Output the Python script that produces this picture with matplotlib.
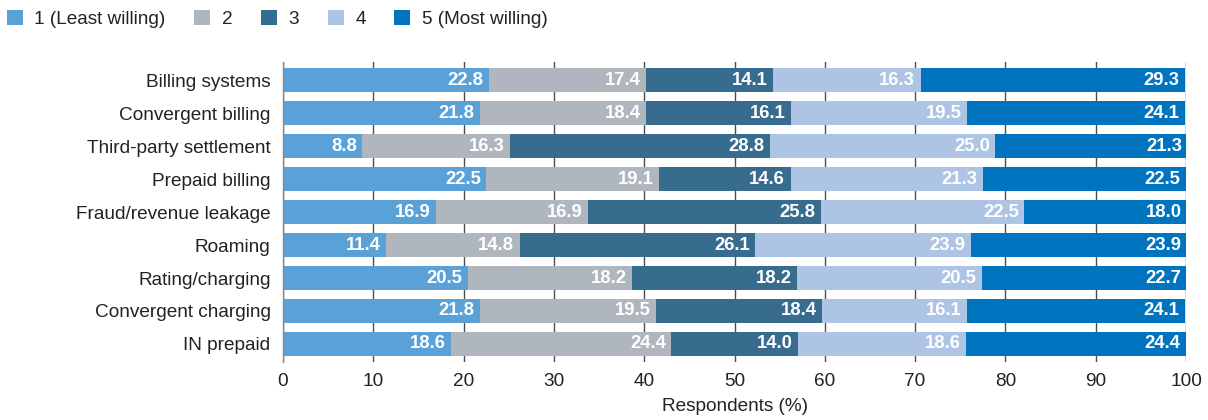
import matplotlib
matplotlib.use("Agg")
import matplotlib.pyplot as plt
from matplotlib.patches import Patch
import numpy as np

plt.rcParams['font.family'] = ['Liberation Sans', 'DejaVu Sans']

categories = ["Billing systems", "Convergent billing", "Third-party settlement",
              "Prepaid billing", "Fraud/revenue leakage", "Roaming",
              "Rating/charging", "Convergent charging", "IN prepaid"]
series_names = ["1 (Least willing)", "2", "3", "4", "5 (Most willing)"]
s1 = [22.8, 21.8, 8.8, 22.5, 16.9, 11.4, 20.5, 21.8, 18.6]
s2 = [17.4, 18.4, 16.3, 19.1, 16.9, 14.8, 18.2, 19.5, 24.4]
s3 = [14.1, 16.1, 28.8, 14.6, 25.8, 26.1, 18.2, 18.4, 14.0]
s4 = [16.3, 19.5, 25.0, 21.3, 22.5, 23.9, 20.5, 16.1, 18.6]
s5 = [29.3, 24.1, 21.3, 22.5, 18.0, 23.9, 22.7, 24.1, 24.4]
xticks = [0, 10, 20, 30, 40, 50, 60, 70, 80, 90, 100]
colors = ["#5aa1d8", "#afb6bd", "#386c8f", "#adc4e4", "#0074bf"]

FS = 13.7
text_color = '#222222'

fig = plt.figure(figsize=(12.08, 4.2), dpi=100)
ax = fig.add_axes([0.2343, 0.138, 0.7475, 0.714])

y = np.arange(len(categories))
left = np.zeros(len(categories))
for vals, col in zip([s1, s2, s3, s4, s5], colors):
    vals = np.array(vals)
    ax.barh(y, vals, left=left, height=0.72, color=col, zorder=2)
    for yi, l, v in zip(y, left, vals):
        ax.text(l + v - 0.6, yi, f"{v:.1f}", ha='right', va='center',
                color='white', fontweight='bold', fontsize=13.3, zorder=3)
    left += vals

ax.set_xlim(0, 100)
ax.set_ylim(len(categories) - 0.45, -0.55)
ax.set_yticks(y)
ax.set_yticklabels(categories, fontsize=FS, color=text_color)
ax.set_xticks(xticks)
ax.set_xticklabels([str(t) for t in xticks], fontsize=FS, color=text_color)
ax.tick_params(axis='y', length=0, pad=9)
ax.tick_params(axis='x', length=0, pad=8)
ax.xaxis.grid(True, color='#4d4d4d', linewidth=1.0, zorder=0)
ax.set_axisbelow(True)
for side in ['top', 'right', 'bottom']:
    ax.spines[side].set_visible(False)
ax.spines['left'].set_color('#888888')
ax.spines['left'].set_linewidth(1.0)
ax.set_xlabel("Respondents (%)", fontsize=FS, color=text_color, labelpad=6)

handles = [Patch(facecolor=c, edgecolor='none') for c in colors]
fig.legend(handles, series_names, loc='upper left', bbox_to_anchor=(0.0, 0.993),
           ncol=5, frameon=False, fontsize=FS, handlelength=0.85, handleheight=0.85,
           handletextpad=0.6, columnspacing=1.5, borderaxespad=0.0,
           borderpad=0.35, labelcolor=text_color)

fig.savefig("out.png", dpi=100)
